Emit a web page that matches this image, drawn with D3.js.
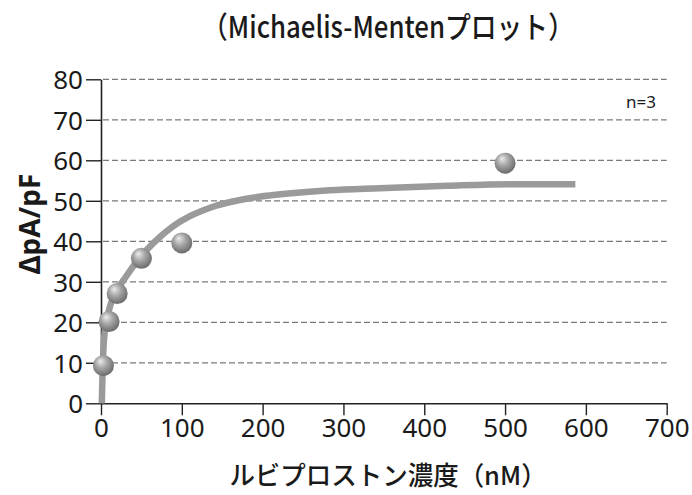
<!DOCTYPE html>
<html>
<head>
<meta charset="utf-8">
<script src="https://cdn.jsdelivr.net/npm/d3@7"></script>
<style>
  body { margin: 0; background: #fff; }
  svg { display: block; }
</style>
</head>
<body>
<svg id="chart" width="692" height="495"></svg>
<script>
// Measured responses (ΔpA/pF) at each lubiprostone concentration (nM)
const concentrations = [3, 10, 20, 50, 100, 500];
const responses = [9.3, 20.2, 27.1, 35.8, 39.6, 59.3];

// Fitted saturation curve, sampled along the concentration axis
const fitX = [1, 2, 4, 10, 18, 31, 48, 65, 89, 110, 135, 180, 222, 283, 345, 428, 510, 587];
const fitY = [0, 8.2, 16.5, 23.1, 27.2, 31.3, 35.9, 39.6, 43.7, 46.2, 48.3, 50.5, 51.6, 52.6, 53.1, 53.7, 54.1, 54.1];

const xTicks = [0, 100, 200, 300, 400, 500, 600, 700];
const yTicks = [0, 10, 20, 30, 40, 50, 60, 70, 80];

const titleText = "（Michaelis-Mentenプロット）";
const xLabel = "ルビプロストン濃度（nM）";
const yLabel = "ΔpA/pF";
const nLabel = "n=3";

const svg = d3.select("#chart");
const numFont = "'Noto Sans', 'Open Sans', sans-serif";
const jpFont = "'Noto Sans CJK JP', 'Noto Sans', sans-serif";

const x = d3.scaleLinear().domain([0, 700]).range([101, 666.7]);
const y = d3.scaleLinear().domain([0, 80]).range([403.3, 79.3]);

// Sphere-like shading for the data markers
const defs = svg.append("defs");
const grad = defs.append("radialGradient")
  .attr("id", "ball")
  .attr("cx", "45%").attr("cy", "40%").attr("r", "60%")
  .attr("fx", "35%").attr("fy", "28%");
grad.append("stop").attr("offset", "0%").attr("stop-color", "#ececec");
grad.append("stop").attr("offset", "45%").attr("stop-color", "#a9a9a9");
grad.append("stop").attr("offset", "100%").attr("stop-color", "#6a6a6a");

// Dashed horizontal gridlines
svg.append("g")
  .selectAll("line")
  .data(yTicks.filter(d => d > 0))
  .join("line")
  .attr("x1", x(0) + 2)
  .attr("x2", x(700))
  .attr("y1", d => y(d))
  .attr("y2", d => y(d))
  .attr("stroke", "#7a7a7a")
  .attr("stroke-width", 1.3)
  .attr("stroke-dasharray", "6,3");

// Axes
const xAxis = svg.append("g")
  .attr("transform", `translate(0,${y(0)})`)
  .call(d3.axisBottom(x).tickValues(xTicks).tickSize(12).tickSizeOuter(0).tickPadding(3));
const yAxis = svg.append("g")
  .attr("transform", `translate(${x(0)},0)`)
  .call(d3.axisLeft(y).tickValues(yTicks).tickSize(15).tickSizeOuter(0).tickPadding(3));

[xAxis, yAxis].forEach(g => {
  g.select(".domain").attr("stroke", "#222").attr("stroke-width", 1.6);
  g.selectAll(".tick line").attr("stroke", "#222").attr("stroke-width", 1.4);
  g.selectAll(".tick text")
    .attr("fill", "#1a1a1a")
    .style("font-family", numFont)
    .style("font-size", "26px");
});
yAxis.selectAll(".tick text").attr("dy", "0.36em");

// Fitted curve
const fitPoints = fitX.map((v, i) => [v, fitY[i]]);
svg.append("path")
  .datum(fitPoints)
  .attr("fill", "none")
  .attr("stroke", "#9a9a9a")
  .attr("stroke-width", 6.5)
  .attr("d", d3.line().x(d => x(d[0])).y(d => y(d[1])).curve(d3.curveMonotoneX));

// Data markers
svg.append("g")
  .selectAll("circle")
  .data(concentrations.map((c, i) => [c, responses[i]]))
  .join("circle")
  .attr("cx", d => x(d[0]))
  .attr("cy", d => y(d[1]))
  .attr("r", 10.5)
  .attr("fill", "url(#ball)");

// Horizontally condensed text helper
function label(tx, ty, str, opts) {
  const t = svg.append("text")
    .attr("transform", `translate(${tx},${ty}) ${opts.rotate ? "rotate(-90)" : ""} scale(${opts.sx || 1},1)`)
    .attr("text-anchor", opts.anchor || "middle")
    .style("font-family", opts.font)
    .style("font-weight", opts.weight || 400)
    .style("font-size", opts.size + "px")
    .attr("fill", "#1a1a1a")
    .text(str);
  return t;
}

label(388, 38, titleText, { font: jpFont, weight: 500, size: 30, sx: 0.86 });
label(388, 485, xLabel, { font: jpFont, weight: 500, size: 26, sx: 0.98 });
label(40, 224, yLabel, { font: numFont, weight: 700, size: 28, sx: 1.0, rotate: true });
label(656, 108, nLabel, { font: numFont, weight: 400, size: 17, anchor: "end" });
</script>
</body>
</html>
